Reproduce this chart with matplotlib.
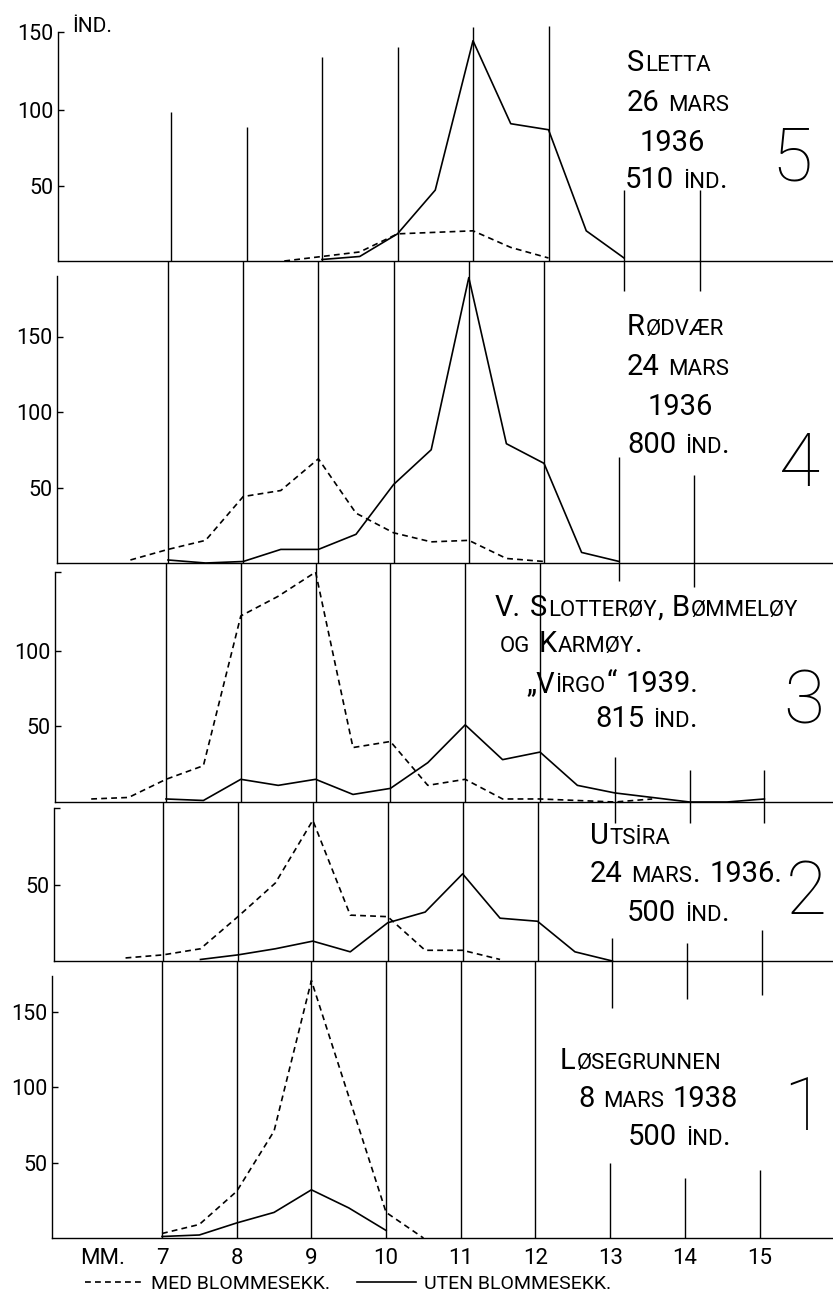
import matplotlib.pyplot as plt
from matplotlib.lines import Line2D
from matplotlib.offsetbox import TextArea, HPacker, AnnotationBbox

# ---- data: length (mm) vs number of individuals -------------------------
sletta_med_x = [8.5, 9, 9.5, 10, 10.5, 11, 11.5, 12]
sletta_med = [0, 3, 6, 18, 19, 20, 9, 2]
sletta_uten_x = [9, 9.5, 10, 10.5, 11, 11.5, 12, 12.5, 13]
sletta_uten = [1, 3, 18, 47, 146, 91, 87, 20, 2]

rodvaer_med_x = [6.5, 7, 7.5, 8, 8.5, 9, 9.5, 10, 10.5, 11, 11.5, 12]
rodvaer_med = [2, 9, 15, 44, 48, 69, 33, 20, 14, 15, 3, 1]
rodvaer_uten_x = [7, 7.5, 8, 8.5, 9, 9.5, 10, 10.5, 11, 11.5, 12, 12.5, 13]
rodvaer_uten = [2, 0, 1, 9, 9, 19, 52, 75, 189, 79, 66, 7, 1]

virgo_med_x = [6, 6.5, 7, 7.5, 8, 8.5, 9, 9.5, 10, 10.5, 11, 11.5, 12, 12.5, 13, 13.5]
virgo_med = [2, 3, 15, 24, 123, 136, 152, 36, 40, 11, 15, 2, 2, 1, 0, 2]
virgo_uten_x = [7, 7.5, 8, 8.5, 9, 9.5, 10, 10.5, 11, 11.5, 12, 12.5, 13, 13.5, 14, 14.5, 15]
virgo_uten = [2, 1, 15, 11, 15, 5, 9, 26, 51, 28, 33, 11, 6, 3, 0, 0, 2]

utsira_med_x = [6.5, 7, 7.5, 8, 8.5, 9, 9.5, 10, 10.5, 11, 11.5]
utsira_med = [2, 4, 8, 29, 51, 92, 30, 29, 7, 7, 1]
utsira_uten_x = [7.5, 8, 8.5, 9, 9.5, 10, 10.5, 11, 11.5, 12, 12.5, 13]
utsira_uten = [1, 4, 8, 13, 6, 25, 32, 57, 28, 26, 6, 0]

lose_med_x = [7, 7.5, 8, 8.5, 9, 9.5, 10, 10.5]
lose_med = [3, 9, 31, 71, 171, 94, 17, 0]
lose_uten_x = [7, 7.5, 8, 8.5, 9, 9.5, 10]
lose_uten = [1, 2, 10, 17, 32, 20, 5]

sletta_text = ["Sletta", "26 mars", "1936", "510 ind."]
rodvaer_text = ["Rødvær", "24 mars", "1936", "800 ind."]
virgo_text = ["V. Slotterøy, Bømmeløy", "og Karmøy.", "„Virgo“ 1939.", "815 ind."]
utsira_text = ["Utsira", "24 mars. 1936.", "500 ind."]
lose_text = ["Løsegrunnen", "8 mars 1938", "500 ind."]

x_ticks = [7, 8, 9, 10, 11, 12, 13, 14, 15]
legend_labels = ["MED BLOMMESEKK.", "UTEN BLOMMESEKK."]

# ---- layout (pixels of the 833x1297 picture) -----------------------------
W, H = 833, 1297
FONT = ['Roboto', 'DejaVu Sans']
plt.rcParams['font.family'] = FONT
plt.rcParams['font.weight'] = 'normal'

fig = plt.figure(figsize=(W / 100, H / 100), dpi=100)

DASH = (0, (3.5, 2.5))
LW = 1.2
GRID_LW = 1.0


def fx(px):
    return px / W


def fy(py):
    return 1 - py / H


def smallcaps(x, y, s, big=21, small=16):
    # hand lettering: capitals big, the rest as smaller capitals
    words = []
    for word in s.split(' '):
        runs = []
        for ch in word:
            low = ch.islower()
            c = ch.upper() if low else ch
            if ch == 'i':
                c = 'İ'
            if runs and runs[-1][1] == low:
                runs[-1][0] += c
            else:
                runs.append([c, low])
        kids = [TextArea(t, textprops=dict(fontsize=small if low else big,
                                           family=FONT))
                for t, low in runs]
        words.append(HPacker(children=kids, align='baseline', pad=0, sep=0.5))
    box = HPacker(children=words, align='baseline', pad=0, sep=big * 0.3)
    ab = AnnotationBbox(box, (fx(x), fy(y)), xycoords='figure fraction',
                        box_alignment=(0, 0.5), frameon=False, pad=0)
    fig.add_artist(ab)


def make_panel(top, bottom, left, x7, ppm, ymax):
    xmin = 7 - (x7 - left) / ppm
    xmax = xmin + (W - left) / ppm
    ax = fig.add_axes([fx(left), fy(bottom), (W - left) / W, (bottom - top) / H])
    ax.set_xlim(xmin, xmax)
    ax.set_ylim(0, ymax)
    ax.patch.set_visible(False)
    for s in ['top', 'right']:
        ax.spines[s].set_visible(False)
    ax.spines['left'].set_linewidth(GRID_LW)
    ax.spines['bottom'].set_linewidth(GRID_LW)
    ax.set_xticks([])
    ax.tick_params(axis='y', direction='in', length=4, width=GRID_LW,
                   pad=3, labelsize=15.5)
    return ax


def curves(ax, mx, my, ux, uy):
    ax.plot(mx, my, color='k', lw=LW, ls=DASH)
    ax.plot(ux, uy, color='k', lw=LW)


# panel 5 -- Sletta
ax5 = make_panel(0, 261, 58, 171, 75.5, 173)
curves(ax5, sletta_med_x, sletta_med, sletta_uten_x, sletta_uten)
ax5.spines['left'].set_bounds(0, 152)
ax5.set_yticks([50, 100, 152], ['50', '100', '150'])
for x, top in zip([7, 8, 9, 10, 11, 12], [99, 89, 135, 142, 155, 156]):
    ax5.vlines(x, 0, top, color='k', lw=GRID_LW)
ax5.vlines([13, 14], -20, 47, color='k', lw=GRID_LW, clip_on=False)
ax5.spines['bottom'].set_bounds(ax5.get_xlim()[0], 15.85)
fig.text(fx(72), fy(27), "İND.", fontsize=15, va='center', ha='left')

# panel 4 -- Rodvaer
ax4 = make_panel(261, 563, 57, 168, 75.2, 200)
curves(ax4, rodvaer_med_x, rodvaer_med, rodvaer_uten_x, rodvaer_uten)
ax4.spines['left'].set_bounds(0, 190)
ax4.set_yticks([50, 100, 150])
ax4.vlines([7, 8, 9, 10, 11, 12], 0, 200, color='k', lw=GRID_LW)
ax4.vlines(13, -12, 70, color='k', lw=GRID_LW, clip_on=False)
ax4.vlines(14, -16, 58, color='k', lw=GRID_LW, clip_on=False)
ax4.spines['bottom'].set_bounds(ax4.get_xlim()[0], 15.85)

# panel 3 -- Virgo
ax3 = make_panel(563, 802, 55, 166, 74.8, 158)
curves(ax3, virgo_med_x, virgo_med, virgo_uten_x, virgo_uten)
ax3.spines['left'].set_bounds(0, 152)
ax3.set_yticks([50, 100, 152], ['50', '100', ''])
ax3.vlines([7, 8, 9, 10, 11, 12], 0, 158, color='k', lw=GRID_LW)
ax3.vlines(13, -14, 30, color='k', lw=GRID_LW, clip_on=False)
ax3.vlines([14, 15], -14, 21, color='k', lw=GRID_LW, clip_on=False)

# panel 2 -- Utsira
ax2 = make_panel(802, 961, 54, 163, 74.9, 104)
curves(ax2, utsira_med_x, utsira_med, utsira_uten_x, utsira_uten)
ax2.spines['left'].set_bounds(0, 100)
ax2.set_yticks([50, 100], ['50', ''])
ax2.vlines([7, 8, 9, 10, 11, 12], 0, 104, color='k', lw=GRID_LW)
ax2.vlines(13, -31, 15, color='k', lw=GRID_LW, clip_on=False)
ax2.vlines(14, -25, 12, color='k', lw=GRID_LW, clip_on=False)
ax2.vlines(15, -22, 20, color='k', lw=GRID_LW, clip_on=False)

# panel 1 -- Losegrunnen
ax1 = make_panel(961, 1238, 52, 162, 74.7, 184)
curves(ax1, lose_med_x, lose_med, lose_uten_x, lose_uten)
ax1.spines['left'].set_bounds(0, 174)
ax1.set_yticks([50, 100, 150])
ax1.vlines([7, 8, 9, 10, 11, 12], 0, 184, color='k', lw=GRID_LW)
ax1.vlines(13, 0, 50, color='k', lw=GRID_LW)
ax1.vlines(14, 0, 40, color='k', lw=GRID_LW)
ax1.vlines(15, 0, 45, color='k', lw=GRID_LW)
ax1.set_xticks([6.2] + x_ticks, ['MM.'] + [str(t) for t in x_ticks])
ax1.tick_params(axis='x', length=0, pad=7, labelsize=16)

# panel captions
for (x, y), s in zip([(627, 63), (627, 103), (640, 143), (625, 180)], sletta_text):
    smallcaps(x, y, s)
for (x, y), s in zip([(627, 327), (627, 367), (648, 407), (627, 445)], rodvaer_text):
    smallcaps(x, y, s)
for (x, y), s in zip([(495, 608), (500, 644), (526, 684), (595, 719)], virgo_text):
    smallcaps(x, y, s)
for (x, y), s in zip([(590, 836), (590, 874), (627, 913)], utsira_text):
    smallcaps(x, y, s)
for (x, y), s in zip([(560, 1061), (578, 1099), (628, 1137)], lose_text):
    smallcaps(x, y, s)

for (x, y), n in zip([(792, 160), (800, 465), (804, 703), (806, 893), (804, 1109)],
                     ['5', '4', '3', '2', '1']):
    fig.text(fx(x), fy(y), n, fontsize=54, ha='center', va='center',
             family=FONT, fontweight='light')

# legend
handles = [Line2D([], [], color='k', lw=LW, ls=DASH),
           Line2D([], [], color='k', lw=LW)]
fig.legend(handles, legend_labels, loc='center left',
           bbox_to_anchor=(fx(85), fy(1284)), ncol=2, frameon=False,
           fontsize=14, handlelength=3.0, handletextpad=0.4,
           columnspacing=1.4, borderpad=0, borderaxespad=0)

fig.savefig('out.png', dpi=100)
